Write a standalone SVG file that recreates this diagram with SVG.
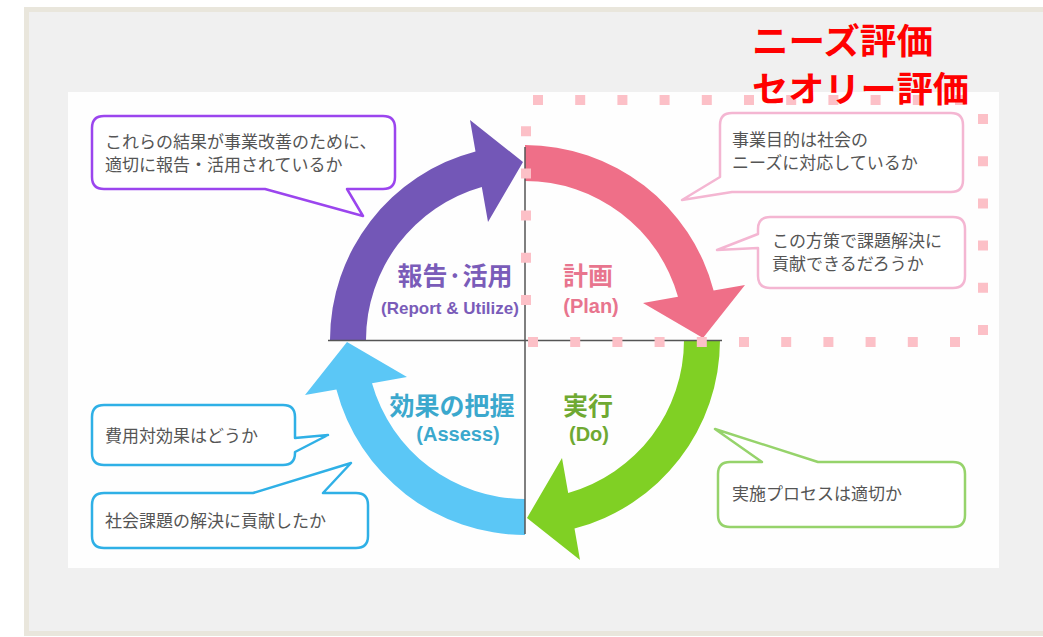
<svg xmlns="http://www.w3.org/2000/svg" xmlns:xlink="http://www.w3.org/1999/xlink" width="1043" height="637" viewBox="0 0 1043 637">
<style>
.box{fill:#fff;stroke-width:2.5;stroke-linejoin:round}
.t{font-family:"Noto Sans CJK JP","Noto Sans CJK SC",sans-serif;font-size:17px;fill:#555}
.lbl{font-family:"Noto Sans CJK JP","Noto Sans CJK SC",sans-serif;font-weight:bold;font-size:25px;text-anchor:middle}
.en{font-family:"Liberation Sans",Arial,sans-serif;font-weight:bold;font-size:20px;text-anchor:middle}
.red{font-family:"Noto Sans CJK JP","Noto Sans CJK SC",sans-serif;font-weight:bold;font-size:35px;fill:#ff0000}
.dots{fill:none;stroke:#fcc0c7;stroke-width:10;stroke-dasharray:10 32.2}
</style>
<defs>
<path id="arrow" d="M0,-195 A195,195 0 0 1 188.6,-49.5 L220,-55 L178,-2 L118,-37 L153,-43.2 A159,159 0 0 0 0,-159 Z"/>
</defs>
<rect x="0" y="0" width="1043" height="637" fill="#ffffff"/>
<rect x="26.5" y="9.5" width="1030" height="624" fill="#f0f0f0" stroke="#e9e6dc" stroke-width="5"/>
<rect x="68" y="92" width="931" height="476" fill="#fefefe"/>

<g id="phase-plan">
<use xlink:href="#arrow" transform="translate(525,340)" fill="#ef6f88"/>
<text class="lbl" x="588" y="285" fill="#e8758e">計画</text>
<text class="en" x="591" y="313" fill="#e8758e">(Plan)</text>
</g>
<g id="phase-do">
<use xlink:href="#arrow" transform="translate(525,340) rotate(90)" fill="#80d024"/>
<text class="lbl" x="588" y="415" fill="#6fa932">実行</text>
<text class="en" x="589" y="441" fill="#6fa932">(Do)</text>
</g>
<g id="phase-assess">
<use xlink:href="#arrow" transform="translate(525,340) rotate(180)" fill="#5bc7f6"/>
<text class="lbl" x="452" y="415" fill="#3ba8cd">効果の把握</text>
<text class="en" x="458" y="441" fill="#3ba8cd">(Assess)</text>
</g>
<g id="phase-report">
<use xlink:href="#arrow" transform="translate(525,340) rotate(270)" fill="#7357b7"/>
<text class="lbl" x="455" y="285" fill="#7a5cb9">報告·活用</text>
<text class="en" x="450" y="313.5" fill="#7a5cb9" style="font-size:17px">(Report &amp; Utilize)</text>
</g>

<g id="connectors" stroke="#555" stroke-width="1.5" fill="none">
<line x1="525" y1="147" x2="525" y2="534"/>
<line x1="328" y1="340.5" x2="722" y2="340.5"/>
</g>

<g id="theory-area">
<path class="dots" d="M533,100 H966"/>
<path class="dots" d="M983,114 V336"/>
<path class="dots" d="M960,342 H520"/>
<path class="dots" d="M526,305 V120"/>
</g>

<g id="callout-report">
<path class="box" stroke="#9b45ee" d="M104,116 H383 Q395,116 395,128 V177 Q395,189 383,189 H347 L363,216 L265,189 H104 Q92,189 92,177 V128 Q92,116 104,116 Z"/>
<text class="t" x="105" y="148">これらの結果が事業改善のために、</text>
<text class="t" x="105" y="171">適切に報告・活用されているか</text>
</g>
<g id="callout-plan-1">
<path class="box" stroke="#f4b6d2" stroke-width="2" d="M732,113 H951 Q963,113 963,125 V180 Q963,192 951,192 H732 L682,200 L720,177 V125 Q720,113 732,113 Z"/>
<text class="t" x="732" y="146">事業目的は社会の</text>
<text class="t" x="732" y="169">ニーズに対応しているか</text>
</g>
<g id="callout-plan-2">
<path class="box" stroke="#f4b6d2" stroke-width="2" d="M770,217 H953 Q965,217 965,229 V276 Q965,288 953,288 H770 Q758,288 758,276 V248 L717,250 L758,234 V229 Q758,217 770,217 Z"/>
<text class="t" x="772" y="247">この方策で課題解決に</text>
<text class="t" x="772" y="270">貢献できるだろうか</text>
</g>
<g id="callout-do">
<path class="box" stroke="#96d36b" d="M730,462 H762 L715,429 L818,462 H953 Q965,462 965,474 V515 Q965,527 953,527 H730 Q718,527 718,515 V474 Q718,462 730,462 Z"/>
<text class="t" x="732" y="500">実施プロセスは適切か</text>
</g>
<g id="callout-assess-1">
<path class="box" stroke="#2fb0e6" d="M104,405 H283 Q295,405 295,417 V438 L328,435 L295,452 V453 Q295,465 283,465 H104 Q92,465 92,453 V417 Q92,405 104,405 Z"/>
<text class="t" x="105" y="442">費用対効果はどうか</text>
</g>
<g id="callout-assess-2">
<path class="box" stroke="#2fb0e6" d="M104,493 H253 L351,463 L323,493 H356 Q368,493 368,505 V536 Q368,548 356,548 H104 Q92,548 92,536 V505 Q92,493 104,493 Z"/>
<text class="t" x="105" y="527">社会課題の解決に貢献したか</text>
</g>

<g id="evaluation-labels">
<text class="red" x="752" y="54" textLength="181" lengthAdjust="spacingAndGlyphs">ニーズ評価</text>
<text class="red" x="752" y="102" textLength="217" lengthAdjust="spacingAndGlyphs">セオリー評価</text>
</g>
</svg>
